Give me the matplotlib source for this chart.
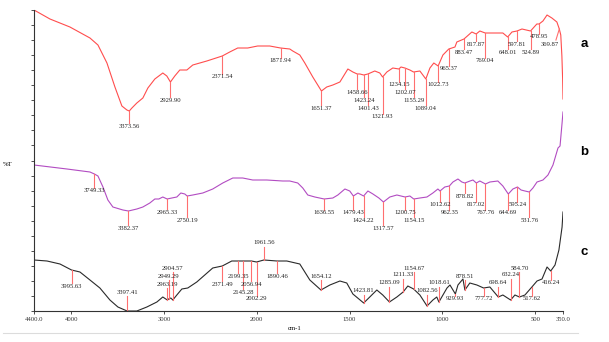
import numpy as np
import matplotlib
matplotlib.use('Agg')
import matplotlib.pyplot as plt
from matplotlib.lines import Line2D


# wavenumbers (cm-1) and offset %T for the three spectra
wn_a = [4400, 4228, 4013, 3797, 3711, 3614, 3528, 3453, 3399, 3373.56, 3345, 3292, 3227, 3173,
        3098, 3012, 2969, 2929.90, 2883, 2829, 2753, 2689, 2538, 2371.54, 2291, 2205, 2097,
        1995, 1930, 1871.94, 1822, 1806, 1768, 1741, 1698, 1651.37, 1623, 1590, 1552, 1509,
        1482, 1458.66, 1444, 1423.24, 1401.43, 1364, 1337, 1321.93, 1299, 1267, 1234.15, 1223,
        1202.07, 1175, 1155.29, 1121, 1089.04, 1067, 1046, 1022.73, 997, 965.37, 932, 922,
        883.47, 841, 817.87, 798, 769.04, 727, 674, 648.01, 625, 597.81, 571, 524.89, 491,
        478.95, 458, 436, 410, 383, 369.87, 362, 356, 352, 350]
t_a = [301, 292, 284, 273, 266, 248, 224, 205, 201, 200, 203, 208, 213, 223,
       232, 238, 235, 229, 235, 241, 241, 246, 250, 255, 259, 263, 263,
       265, 265, 263, 262, 260, 256, 248, 234, 220, 224, 226, 229, 242,
       239, 237, 237, 236, 237, 240, 238, 234, 239, 243, 242, 244,
       243, 241, 239, 240, 232, 243, 248, 245, 256, 262, 264, 269,
       272, 279, 277, 280, 278, 278, 278, 274, 279, 280, 282, 280, 287,
       287, 290, 296, 293, 289, 282, 276, 255, 232, 212]

wn_b = [4400, 4045, 3797, 3749.33, 3711, 3657, 3604, 3550, 3442, 3382.37, 3292, 3227, 3152,
        3098, 3055, 3012, 2965.33, 2915, 2861, 2818, 2775, 2750.19, 2689, 2581, 2474, 2366,
        2258, 2151, 2043, 1946, 1860, 1822, 1779, 1752, 1725, 1687, 1636.55, 1590, 1563, 1525,
        1499, 1479.43, 1455, 1424.22, 1401, 1374, 1342, 1317.57, 1283, 1245, 1200.75, 1175,
        1154.15, 1121, 1083, 1051, 1024, 1012.62, 987, 962.35, 943, 916, 895, 878.82, 851, 835,
        817.02, 798, 767.76, 744, 701, 674, 644.69, 620, 595.24, 576, 555, 531.76, 512, 490,
        458, 431, 404, 377, 366, 355, 350]
t_b = [146, 142, 139, 137, 135, 124, 111, 104, 101, 100, 102, 104, 108,
       112, 112, 114, 112, 113, 114, 118, 117, 115, 116, 118, 122, 128,
       133, 133, 131, 131, 130, 130, 128, 123, 116, 114, 112, 113, 116, 122,
       120, 115, 118, 115, 120, 117, 113, 109, 114, 116, 114, 115,
       112, 113, 114, 118, 122, 120, 124, 125, 129, 132, 129, 128, 130, 131,
       128, 130, 127, 129, 130, 125, 117, 122, 124, 121, 120, 119, 123, 129,
       131, 136, 146, 163, 165, 188, 199]

wn_c = [4400, 4260, 4120, 3995.63, 3905, 3797, 3690, 3582, 3496, 3397.41, 3292, 3184, 3076,
        3012, 2980, 2963.19, 2949.29, 2926, 2904.57, 2861, 2807, 2743, 2646, 2560, 2474,
        2371.49, 2269, 2199.35, 2145.28, 2056.94, 2002.29, 1961.56, 1890.46, 1838, 1768, 1714,
        1654.12, 1606, 1552, 1515, 1482, 1423.81, 1391, 1353, 1321, 1285.09, 1245, 1211.33,
        1186, 1154.67, 1121, 1082.56, 1051, 1030, 1018.61, 975, 959, 929.93, 916, 889, 878.51,
        852, 814, 777.72, 744, 698.64, 674, 632.24, 609, 584.70, 555, 517.62, 490, 463, 436,
        416.24, 393, 372, 355, 350]
t_c = [51, 50, 47, 41, 39, 31, 23, 11, 4, 0, 0, 4, 9,
       14, 12, 11, 12, 13, 11, 16, 22, 23, 29, 36, 43,
       45, 50, 50, 50, 50, 49, 51, 50, 50, 47, 31,
       21, 26, 30, 28, 17, 8, 14, 21, 16, 9, 14, 19,
       25, 22, 16, 5, 11, 14, 9, 23, 26, 17, 26, 32, 21,
       28, 26, 23, 24, 14, 16, 11, 16, 14, 16, 24, 30, 32, 44,
       40, 46, 61, 84, 99]

# labelled peaks and the height of each peak label
peaks_a = [3373.56, 2929.90, 2371.54, 1871.94, 1651.37, 1458.66, 1423.24, 1401.43, 1321.93,
           1234.15, 1202.07, 1155.29, 1089.04, 1022.73, 965.37, 883.47, 817.87, 769.04,
           648.01, 597.81, 524.89, 478.95, 369.87]
lab_a = [185, 211, 234, 250, 203, 219, 211, 203, 194, 226, 219, 211, 203, 226, 242, 259,
         267, 250, 259, 267, 259, 274, 267]

peaks_b = [3749.33, 3382.37, 2965.33, 2750.19, 1636.55, 1479.43, 1424.22, 1317.57, 1200.75,
           1154.15, 1012.62, 962.35, 878.82, 817.02, 767.76, 644.69, 595.24, 531.76]
lab_b = [120, 83, 99, 91, 98, 98, 91, 83, 98, 91, 106, 98, 115, 106, 98, 98, 106, 91]

peaks_c = [3995.63, 3397.41, 2963.19, 2949.29, 2904.57, 2371.49, 2199.35, 2145.28, 2056.94,
           2002.29, 1961.56, 1890.46, 1654.12, 1423.81, 1285.09, 1211.33, 1154.67, 1082.56,
           1018.61, 929.93, 878.51, 777.72, 698.64, 632.24, 584.70, 517.62, 416.24]
lab_c = [25, 19, 27, 35, 43, 27, 35, 19, 27, 12, 68, 35, 35, 20, 28, 36, 43, 20, 28, 12,
         35, 12, 28, 36, 43, 12, 28]

RED = '#ff4d4d'
PURPLE = '#b24cc2'
BLACK = '#2a2a2a'
MARK = '#ff6f6f'
SERIF = 'Liberation Serif'
FS = 4.8


def fwd(w):
    # above 2000 cm-1 the axis runs at half scale
    w = np.asarray(w, dtype=float)
    return np.where(w > 2000, 2000 + (w - 2000) / 2.0, w)


def inv(u):
    u = np.asarray(u, dtype=float)
    return np.where(u > 2000, 2000 + (u - 2000) * 2.0, u)


def mark_peaks(ax, wn, tr, peaks, labels, label_x=None):
    wn = np.asarray(wn)[::-1]
    tr = np.asarray(tr)[::-1]
    for p, ly in zip(peaks, labels):
        cy = np.interp(p, wn, tr)
        lx = p
        if label_x and p in label_x:
            lx = label_x[p]
            ax.plot([fwd_inv_shift(lx), p], [ly + 4, cy], color=MARK, lw=0.8)
        else:
            end = ly + 3.5 if ly < cy else ly - 3.5
            ax.plot([p, p], [cy, end], color=MARK, lw=0.8)
        ax.text(lx, ly, '{:.2f}'.format(p), ha='center', va='center',
                fontsize=FS, family=SERIF, color='#222222')


def fwd_inv_shift(w):
    # right edge of an offset label, where its leader starts
    return w - 32


fig = plt.figure(figsize=(6.09, 3.42), dpi=100)
ax = fig.add_axes([34 / 609, 31 / 342, 529 / 609, 301 / 342])
ax.set_xscale('function', functions=(fwd, inv))

ax.plot(wn_a, t_a, color=RED, lw=0.8)
ax.plot(wn_b, t_b, color=PURPLE, lw=0.8)
ax.plot(wn_c, t_c, color=BLACK, lw=0.8)

mark_peaks(ax, wn_a, t_a, peaks_a, lab_a, label_x={369.87: 420})
mark_peaks(ax, wn_b, t_b, peaks_b, lab_b)
mark_peaks(ax, wn_c, t_c, peaks_c, lab_c)

ax.set_xlim(4400, 350)
ax.set_ylim(0, 301)

ax.set_xticks([4400, 4000, 3000, 2000, 1500, 1000, 500, 350])
ax.set_xticklabels(['4400.0', '4000', '3000', '2000', '1500', '1000', '500', '350.0'],
                   family=SERIF, fontsize=FS)
ax.minorticks_off()
ax.set_yticks(np.linspace(0, 301, 21))
ax.set_yticklabels([])
ax.tick_params(axis='x', direction='out', length=2.5, width=0.6, pad=2, colors='#333333')
ax.tick_params(axis='y', direction='out', length=2, width=0.6, colors='#333333')

for side in ['top', 'right']:
    ax.spines[side].set_visible(False)
for side in ['left', 'bottom']:
    ax.spines[side].set_color('#333333')
    ax.spines[side].set_linewidth(0.8)

fig.text(295 / 609, 1 - 329 / 342, 'cm-1', ha='center', va='center',
         fontsize=FS, family=SERIF)
fig.text(8 / 609, 1 - 165 / 342, '%T', ha='center', va='center',
         fontsize=FS, family=SERIF)

for name, ypix in [('a', 44), ('b', 152), ('c', 252)]:
    fig.text(584 / 609, 1 - ypix / 342, name, ha='center', va='center',
             fontsize=9.5, fontweight='bold', family='Liberation Sans')

fig.add_artist(Line2D([3 / 609, 578 / 609], [1 - 333 / 342, 1 - 333 / 342],
                      color='#dcdcdc', lw=0.8))

fig.savefig('out.png', dpi=100)
